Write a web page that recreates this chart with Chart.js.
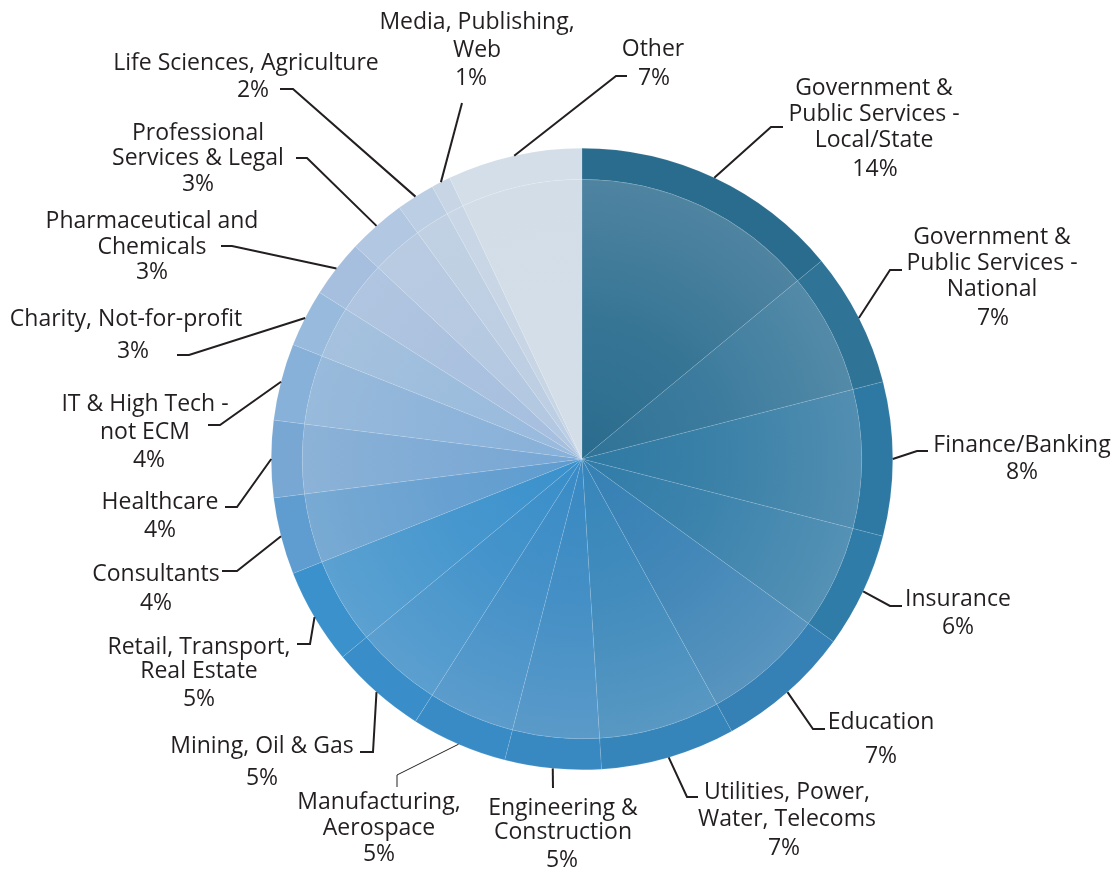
<!DOCTYPE html>
<html>
<head>
<meta charset="utf-8">
<script src="https://cdn.jsdelivr.net/npm/chart.js@4/dist/chart.umd.min.js"></script>
<style>
  html, body { margin: 0; padding: 0; background: #ffffff; }
  #wrap { width: 1115px; height: 869px; position: relative; }
  canvas { display: block; }
</style>
</head>
<body>
<div id="wrap"><canvas id="chart" width="1115" height="869"></canvas></div>
<script>
// Industry sectors, clockwise from twelve o'clock
const categories = [
  ['Government &', 'Public Services -', 'Local/State'],
  ['Government &', 'Public Services -', 'National'],
  ['Finance/Banking'],
  ['Insurance'],
  ['Education'],
  ['Utilities, Power,', 'Water, Telecoms'],
  ['Engineering &', 'Construction'],
  ['Manufacturing,', 'Aerospace'],
  ['Mining, Oil & Gas'],
  ['Retail, Transport,', 'Real Estate'],
  ['Consultants'],
  ['Healthcare'],
  ['IT & High Tech -', 'not ECM'],
  ['Charity, Not-for-profit'],
  ['Pharmaceutical and', 'Chemicals'],
  ['Professional', 'Services & Legal'],
  ['Life Sciences, Agriculture'],
  ['Media, Publishing,', 'Web'],
  ['Other']
];

// Share of respondents, percent
const shares = [14, 7, 8, 6, 7, 7, 5, 5, 5, 5, 4, 4, 4, 3, 3, 3, 2, 1, 7];

// Rim colour of each sector
const rimColors = [
  '#2a6c8e', '#2f7397', '#2e79a3', '#307ca8', '#3580b4', '#3685ba', '#3888c2',
  '#398bc6', '#398ec9', '#3a91cc', '#5f9ccf', '#78a7d4', '#88b1d9', '#98badd',
  '#a7bfdf', '#b2c7e1', '#bccee3', '#c7d5e5', '#d3dee8'
];

// Callout placement: name block (x, first line y, line step), percent (x, y),
// and the leader path after it leaves the rim
const calloutLayout = [
  { nx: 874, ny: 87,  lh: 26, px: 875, py: 168, path: [[771, 127], [783, 127]] },
  { nx: 992, ny: 236, lh: 26, px: 993, py: 317, path: [[890, 270], [902, 270]] },
  { nx: 1022, ny: 444, lh: 26, px: 1022, py: 471, path: [[917, 451], [928, 451]] },
  { nx: 958, ny: 598, lh: 26, px: 958, py: 626, path: [[890, 606], [902, 606]] },
  { nx: 881, ny: 721, lh: 26, px: 881, py: 755, path: [[813, 729], [825, 729]] },
  { nx: 787, ny: 791, lh: 27, px: 784, py: 847, path: [[687, 797], [698, 797]] },
  { nx: 563, ny: 807, lh: 24, px: 562, py: 859, path: [[553, 788]] },
  { nx: 379, ny: 801, lh: 26, px: 379, py: 853, path: [[397, 775], [397, 787]], thin: true },
  { nx: 262, ny: 745, lh: 26, px: 262, py: 777, path: [[373, 752], [360, 752]] },
  { nx: 199, ny: 646, lh: 24, px: 199, py: 698, path: [[310, 644], [297, 644]] },
  { nx: 156, ny: 573, lh: 26, px: 156, py: 602, path: [[237, 571], [222, 571]] },
  { nx: 160, ny: 501, lh: 26, px: 160, py: 529, path: [[237, 507], [225, 507]] },
  { nx: 145, ny: 403, lh: 28, px: 149, py: 459, path: [[220, 425], [208, 425]] },
  { nx: 126, ny: 318, lh: 26, px: 133, py: 350, path: [[189, 355], [177, 355]] },
  { nx: 152, ny: 220, lh: 26, px: 152, py: 271, path: [[232, 246], [221, 246]] },
  { nx: 198, ny: 132, lh: 25, px: 198, py: 183, path: [[307, 158], [296, 158]] },
  { nx: 246, ny: 62,  lh: 26, px: 253, py: 89,  path: [[293, 89], [280, 89]] },
  { nx: 477, ny: 21,  lh: 28, px: 471, py: 77,  path: [[462, 103]] },
  { nx: 653, ny: 48,  lh: 26, px: 654, py: 77,  path: [[616, 76], [627, 76]] }
];

const RIM_WEIGHT = 31;
const FACE_WEIGHT = 280;
const TEXT_COLOR = '#231f20';
const FONT = '23px "Open Sans", "Noto Sans", sans-serif';
const TEXT_NUDGE = 1.5; // optical centring of the text lines

function hexToRgb(h) {
  const n = parseInt(h.slice(1), 16);
  return [(n >> 16) & 255, (n >> 8) & 255, n & 255];
}
function mix(h, target, t) {
  const a = hexToRgb(h), b = hexToRgb(target);
  const c = a.map((v, i) => Math.round(v * (1 - t) + b[i] * t));
  return `rgb(${c[0]},${c[1]},${c[2]})`;
}

// Inner face of each sector: rim colour at the hub, paling toward the rim
const faceCache = {};
function faceFill(ctx) {
  const i = ctx.dataIndex;
  const base = rimColors[i];
  const chart = ctx.chart;
  const area = chart.chartArea;
  if (!area) return mix(base, '#d2dae3', 0.15);
  const key = i + ':' + area.left + ':' + area.top + ':' + area.width;
  if (faceCache[key]) return faceCache[key];
  const cx = (area.left + area.right) / 2;
  const cy = (area.top + area.bottom) / 2;
  const R = Math.min(area.width, area.height) / 2 * FACE_WEIGHT / (FACE_WEIGHT + RIM_WEIGHT);
  const g = chart.ctx.createRadialGradient(cx, cy, 0, cx, cy, R);
  g.addColorStop(0, mix(base, '#d2dae3', 0.0));
  g.addColorStop(0.5, mix(base, '#d2dae3', 0.08));
  g.addColorStop(1, mix(base, '#d2dae3', 0.22));
  faceCache[key] = g;
  return g;
}

const callouts = {
  id: 'callouts',
  afterDatasetsDraw(chart) {
    const ctx = chart.ctx;
    const rim = chart.getDatasetMeta(0);
    ctx.save();
    ctx.strokeStyle = TEXT_COLOR;
    ctx.lineJoin = 'miter';
    rim.data.forEach((arc, i) => {
      const lay = calloutLayout[i];
      const p = arc.getProps(['x', 'y', 'startAngle', 'endAngle', 'outerRadius'], true);
      const mid = (p.startAngle + p.endAngle) / 2;
      const sx = p.x + Math.cos(mid) * p.outerRadius;
      const sy = p.y + Math.sin(mid) * p.outerRadius;
      ctx.lineWidth = lay.thin ? 1 : 2;
      ctx.beginPath();
      ctx.moveTo(sx, sy);
      lay.path.forEach(pt => ctx.lineTo(pt[0], pt[1]));
      ctx.stroke();
    });
    ctx.fillStyle = TEXT_COLOR;
    ctx.font = FONT;
    ctx.textAlign = 'center';
    ctx.textBaseline = 'middle';
    chart.data.labels.forEach((lines, i) => {
      const lay = calloutLayout[i];
      lines.forEach((t, k) => ctx.fillText(t, lay.nx, lay.ny + k * lay.lh + TEXT_NUDGE));
      ctx.fillText(chart.data.datasets[0].data[i] + '%', lay.px, lay.py + TEXT_NUDGE);
    });
    ctx.restore();
  }
};

new Chart(document.getElementById('chart'), {
  type: 'doughnut',
  data: {
    labels: categories,
    datasets: [
      {
        data: shares,
        backgroundColor: rimColors,
        borderColor: 'rgba(255,255,255,0.2)',
        borderWidth: 0.5,
        weight: RIM_WEIGHT
      },
      {
        data: shares,
        backgroundColor: faceFill,
        borderColor: 'rgba(255,255,255,0.18)',
        borderWidth: 0.5,
        weight: FACE_WEIGHT
      }
    ]
  },
  options: {
    responsive: false,
    animation: false,
    cutout: 0,
    events: [],
    layout: { padding: { left: 271, right: 222, top: 148, bottom: 99 } },
    plugins: {
      legend: { display: false },
      tooltip: { enabled: false }
    }
  },
  plugins: [callouts]
});
</script>
</body>
</html>
